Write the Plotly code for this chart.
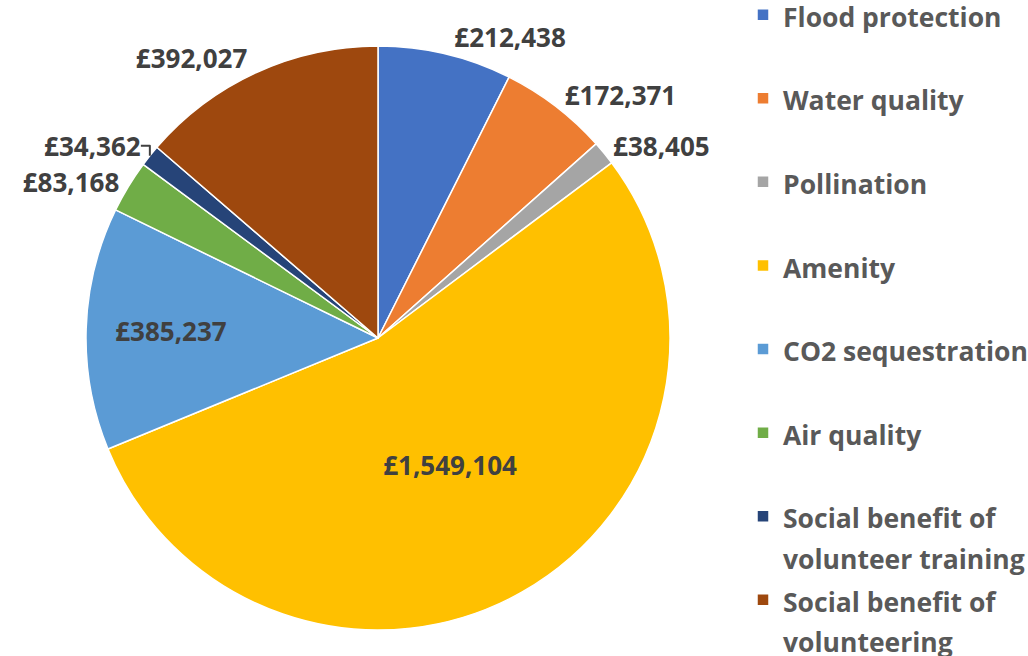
import plotly.graph_objects as go

categories = ["Flood protection", "Water quality", "Pollination", "Amenity",
              "CO2 sequestration", "Air quality",
              "Social benefit of<br>volunteer training",
              "Social benefit of<br>volunteering"]
values = [212438, 172371, 38405, 1549104, 385237, 83168, 34362, 392027]
colors = ["#4472C4", "#ED7D31", "#A5A5A5", "#FFC000",
          "#5B9BD5", "#70AD47", "#264478", "#9E480E"]
text_pos = ["outside", "outside", "outside", "inside",
            "inside", "outside", "outside", "outside"]

W, H = 1028, 656
FONT = "Open Sans"

def legend_label(name):
    parts = name.split("<br>")
    shown = "<br>".join(f"<span style='font-size:26.5px'>{p}</span>" for p in parts)
    if len(parts) == 1:
        shown += "<br> "
    return shown

labels = [legend_label(c) for c in categories]

fig = go.Figure(go.Pie(
    labels=labels,
    values=values,
    sort=False,
    direction="clockwise",
    rotation=0,
    marker=dict(colors=colors, line=dict(color="white", width=1.5)),
    texttemplate="£%{value:,}",
    textposition=text_pos,
    insidetextorientation="horizontal",
    textfont=dict(family=FONT, size=26, color="#404040", weight="bold"),
    domain=dict(x=[86 / W, 670 / W], y=[26 / H, 610 / H]),
    hoverinfo="label+value",
    showlegend=True,
))

fig.update_layout(
    width=W, height=H,
    margin=dict(l=0, r=0, t=0, b=0, autoexpand=False),
    paper_bgcolor="white",
    plot_bgcolor="white",
    font=dict(family=FONT, color="#595959"),
    legend=dict(
        x=743 / W, xanchor="left",
        y=1 + 12 / H, yanchor="top",
        valign="top",
        font=dict(family=FONT, size=31, color="#595959", weight="bold"),
        bgcolor="rgba(0,0,0,0)",
        borderwidth=0,
        itemwidth=30,
        maxheight=2000,
    ),
)

fig.write_html("out.html")
